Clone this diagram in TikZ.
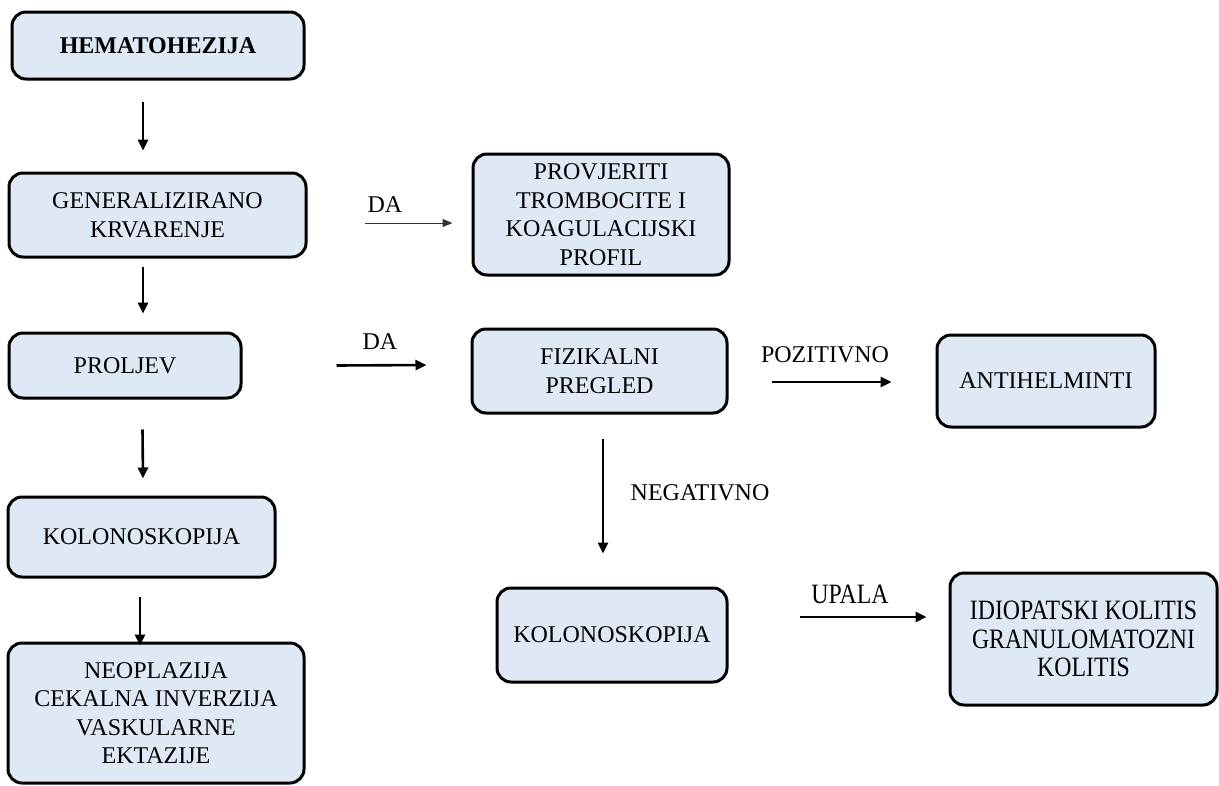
\documentclass[tikz,border=0pt]{standalone}
\usepackage{fontspec}
\setmainfont{Liberation Serif}
\newfontfamily\condfont[FakeStretch=0.85]{Liberation Serif}
\usetikzlibrary{arrows.meta}
\definecolor{boxfill}{HTML}{DEE9F5}
\tikzset{
  box/.style={draw=black, line width=3pt, fill=boxfill, rounded corners=14pt,
    inner sep=0pt, align=center, font=\fontsize{24}{28.5}\selectfont},
  arr/.style={line width=2.6pt, -{Triangle[length=11pt,width=10pt]}},
  thinarr/.style={line width=1pt, black!80, -{Triangle[length=10pt,width=8pt]}},
  lbl/.style={inner sep=0pt, font=\fontsize{24}{27}\selectfont},
}
\begin{document}
\begin{tikzpicture}[x=1pt,y=-1pt]
\useasboundingbox (0,0) rectangle (1219,785);
% left column
\node[box, minimum width=292pt, minimum height=67pt, font=\fontsize{24}{28}\selectfont\bfseries] (hem) at (158,45.5) {HEMATOHEZIJA};
\node[box, minimum width=297pt, minimum height=84pt] (gen) at (157.5,215) {GENERALIZIRANO\\KRVARENJE};
\node[box, minimum width=232pt, minimum height=65pt] (pro) at (125,365.5) {PROLJEV};
\node[box, minimum width=267pt, minimum height=80pt] (kolA) at (141.5,537) {KOLONOSKOPIJA};
\node[box, minimum width=296pt, minimum height=140pt] (neo) at (156,713) {NEOPLAZIJA\\CEKALNA INVERZIJA\\VASKULARNE\\EKTAZIJE};
% middle column
\node[box, minimum width=256pt, minimum height=121pt] (prov) at (601,214.5) {PROVJERITI\\TROMBOCITE I\\KOAGULACIJSKI\\PROFIL};
\node[box, minimum width=255pt, minimum height=84pt] (fiz) at (599.5,371) {FIZIKALNI\\PREGLED};
\node[box, minimum width=230pt, minimum height=94pt] (kolB) at (612,635) {KOLONOSKOPIJA};
% right column
\node[box, minimum width=218pt, minimum height=92pt] (anti) at (1046,381) {ANTIHELMINTI};
\node[box, minimum width=267pt, minimum height=132pt, font=\fontsize{28}{28.5}\condfont] (idio) at (1083.5,639) {IDIOPATSKI KOLITIS\\GRANULOMATOZNI\\KOLITIS};
% vertical arrows, left
\draw[arr] ([xshift=-15pt,yshift=-21pt]hem.south) -- ([xshift=-14.5pt,yshift=21pt]gen.north);
\draw[arr] ([xshift=-14.5pt,yshift=-8pt]gen.south) -- ([xshift=18pt,yshift=18pt]pro.north);
\draw[arr] ([xshift=17.5pt,yshift=-30pt]pro.south) -- ([xshift=1.5pt,yshift=17pt]kolA.north);
\draw[arr] ([xshift=-1.5pt,yshift=-18pt]kolA.south) -- ([xshift=-16pt,yshift=-4pt]neo.north);
% horizontal arrows
\draw[thinarr] ([xshift=57pt,yshift=-8pt]gen.east) -- ([xshift=-19pt,yshift=-8.5pt]prov.west);
\draw[arr] ([xshift=94pt]pro.east) -- ([xshift=-44pt,yshift=6pt]fiz.west);
\draw[arr] ([xshift=43pt,yshift=-11pt]fiz.east) -- ([xshift=-44pt,yshift=-1pt]anti.west);
\draw[arr] ([xshift=3.5pt,yshift=-24pt]fiz.south) -- ([xshift=-9pt,yshift=33pt]kolB.north);
\draw[arr] ([xshift=71pt,yshift=18pt]kolB.east) -- ([xshift=-22pt,yshift=22pt]idio.west);
% labels
\node[lbl] (lda1) at (385,205) {DA};
\node[lbl] (lda2) at (380,342) {DA};
\node[lbl] (lpoz) at (825,355) {POZITIVNO};
\node[lbl] (lneg) at (700,493) {NEGATIVNO};
\node[lbl, font=\fontsize{28}{30}\condfont] (lupa) at (850,594) {UPALA};
\end{tikzpicture}
\end{document}
